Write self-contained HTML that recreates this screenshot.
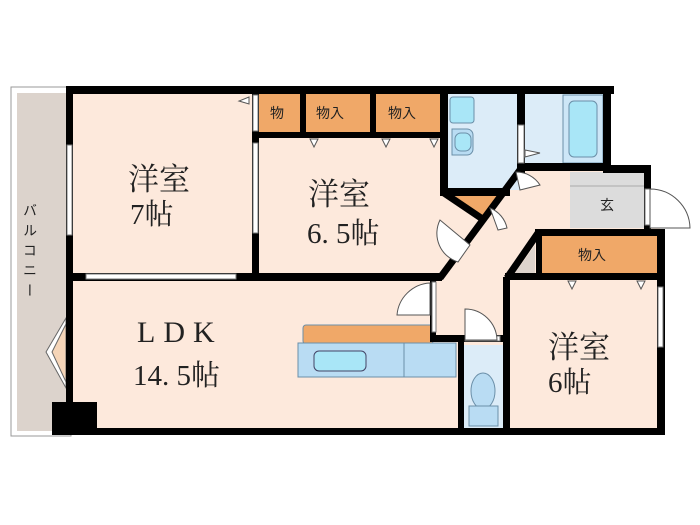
<!DOCTYPE html>
<html><head><meta charset="utf-8"><style>
html,body{margin:0;padding:0;background:#fff;width:700px;height:525px;overflow:hidden}
text{font-family:"Liberation Serif","Noto Serif CJK SC",serif;fill:#222}
.s{font-family:"Liberation Sans","Noto Sans CJK JP",sans-serif;font-size:14px}
</style></head><body>
<svg width="700" height="525" viewBox="0 0 700 525" xmlns="http://www.w3.org/2000/svg">
<rect x="11" y="87" width="60" height="349" fill="#fff" stroke="#999" stroke-width="1"/>
<rect x="17" y="93" width="50" height="338" fill="#dcd3cc"/>
<polygon points="68,88 445,88 445,195 505,195 520,165 610,165 610,228 660,228 660,433 68,433" fill="#fde9dc"/>
<rect x="448" y="94" width="72" height="96" fill="#dcecf8"/>
<rect x="450" y="97" width="24" height="26" rx="3" fill="#a9e6f7" stroke="#6b8fa8"/>
<path d="M452 129 h15 a6 6 0 0 1 6 6 v14 a6 6 0 0 1 -6 6 h-15 z" fill="#b9dcf3" stroke="#6b8fa8"/>
<rect x="455" y="133" width="16" height="18" rx="6" fill="#a9e6f7" stroke="#6b8fa8"/>
<rect x="525" y="94" width="80" height="70" fill="#dcecf8"/>
<rect x="563" y="95" width="40" height="68" fill="#cde6f7" stroke="#6b8fa8"/>
<rect x="569" y="101" width="28" height="56" rx="5" fill="#a9e6f7" stroke="#6b8fa8"/>
<rect x="570" y="172" width="74" height="56" fill="#dcdcdc"/>
<line x1="570" y1="186" x2="644" y2="186" stroke="#aaa"/>
<rect x="259" y="94" width="41" height="39" fill="#f0a868"/>
<rect x="306" y="94" width="64" height="39" fill="#f0a868"/>
<rect x="376" y="94" width="64" height="39" fill="#f0a868"/>
<rect x="541" y="235" width="119" height="40" fill="#f0a868"/>
<polygon points="455,196 497,196 482,218" fill="#f0a868"/>
<polygon points="535,245 535,273 515,273" fill="#ddd3cc"/>
<rect x="462" y="345" width="43" height="83" fill="#dcecf8"/>
<ellipse cx="483" cy="391" rx="12" ry="18" fill="#b9dcf3" stroke="#6b8fa8"/>
<rect x="469" y="406" width="29" height="20" fill="#b9dcf3" stroke="#6b8fa8"/>
<rect x="303" y="325" width="130" height="19" rx="3" fill="#f0a868" stroke="#6b8fa8"/>
<rect x="298" y="343" width="158" height="34" fill="#b9dcf3" stroke="#6b8fa8"/>
<line x1="404" y1="343" x2="404" y2="377" stroke="#6b8fa8"/>
<rect x="314" y="351" width="52" height="20" rx="5" fill="#a9e6f7" stroke="#446"/>
<polygon points="66,318 46,352 66,388" fill="#fff" stroke="#666"/>
<polygon points="66,324 52,352 66,382" fill="#f5d5b8" stroke="#666"/>
<g fill="#000">
<rect x="66" y="86" width="7" height="348"/>
<rect x="66" y="86" width="548" height="8"/>
<rect x="66" y="428" width="599" height="7"/>
<rect x="52" y="402" width="45" height="33"/>
<rect x="252" y="90" width="7" height="189"/>
<rect x="72" y="273" width="370" height="8"/>
<rect x="300" y="90" width="6" height="46"/>
<rect x="370" y="90" width="6" height="46"/>
<rect x="252" y="132" width="193" height="6"/>
<rect x="440" y="90" width="8" height="106"/>
<rect x="440" y="188" width="70" height="8"/>
<rect x="517" y="90" width="8" height="84"/>
<rect x="520" y="163" width="90" height="8"/>
<rect x="603" y="86" width="8" height="85"/>
<rect x="603" y="165" width="48" height="8"/>
<rect x="644" y="165" width="7" height="70"/>
<rect x="535" y="229" width="130" height="7"/>
<rect x="657" y="229" width="8" height="205"/>
<rect x="536" y="232" width="6" height="45"/>
<rect x="505" y="273" width="155" height="7"/>
<rect x="503" y="277" width="7" height="155"/>
<rect x="430" y="281" width="6" height="60"/>
<rect x="430" y="335" width="80" height="7"/>
<rect x="458" y="335" width="6" height="95"/>
</g>
<g stroke="#000" stroke-width="7" fill="none">
<line x1="444" y1="193" x2="484" y2="220"/>
<line x1="440" y1="278" x2="520" y2="170"/>
<line x1="507" y1="278" x2="538" y2="233"/>
</g>
<g fill="#fff" stroke="#777" stroke-width="1">
<rect x="67" y="145" width="5" height="90"/>
<rect x="253" y="143" width="5" height="90"/>
<rect x="86" y="274" width="150" height="5"/>
<rect x="658" y="287" width="5" height="60"/>
<rect x="645" y="189" width="5" height="36"/>
<rect x="518" y="125" width="6" height="38"/>
<rect x="253" y="95" width="5" height="36"/>
<rect x="432" y="282" width="4" height="50"/>
<rect x="465" y="336" width="35" height="5"/>
</g>
<g fill="#fff" stroke="#555" stroke-width="1">
<path d="M650 189 A40 40 0 0 1 690 228 L650 228 Z"/>
<path d="M430 283 A35 35 0 0 0 397 315 L430 315 Z" />
<path d="M465 309 A32 32 0 0 1 497 340 L465 340 Z"/>
<path d="M440 220 A30 30 0 0 0 458 262 L470 245 Z"/>
<path d="M490 208 A28 28 0 0 1 507 228 L498 230 Z"/>
<path d="M516 172 A28 28 0 0 1 540 185 L520 190 Z"/>
</g>
<g fill="#fff" stroke="#555">
<polygon points="310,139 318,139 314,147"/><polygon points="382,139 390,139 386,147"/><polygon points="430,139 438,139 434,147"/>
<polygon points="568,281 576,281 572,289"/><polygon points="637,281 645,281 641,289"/>
<polygon points="249,97 249,104 239,101"/><polygon points="525,150 540,153 525,157"/>
</g>
<text x="128" y="190" font-size="31">洋室</text>
<text x="130" y="224" font-size="29">7帖</text>
<text x="308" y="205" font-size="31">洋室</text>
<text x="307" y="243" font-size="29">6. 5帖</text>
<text x="137" y="342" font-size="30" letter-spacing="8">LDK</text>
<text x="133" y="385" font-size="29">14. 5帖</text>
<text x="548" y="358" font-size="31">洋室</text>
<text x="548" y="392" font-size="29">6帖</text>
<text class="s" x="270" y="118">物</text>
<text class="s" x="316" y="118">物入</text>
<text class="s" x="388" y="118">物入</text>
<text class="s" x="578" y="260">物入</text>
<text class="s" x="600" y="210">玄</text>
<text class="s" x="30" y="203" style="writing-mode:vertical-rl" font-size="16" letter-spacing="6">バルコニー</text>
</svg>
</body></html>
